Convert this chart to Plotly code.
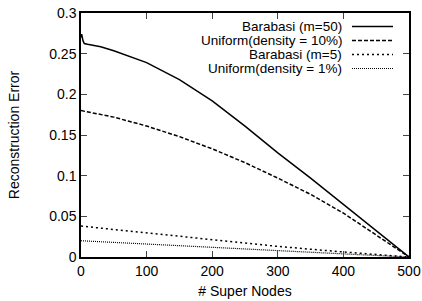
import plotly.graph_objects as go

# Data
x_ba50 = [0, 1, 3, 5, 10, 30, 50, 100, 150, 200, 250, 300, 350, 400, 450, 500]
y_ba50 = [0.270, 0.274, 0.266, 0.2625, 0.2615, 0.2585, 0.2535, 0.239, 0.218, 0.192, 0.161, 0.128, 0.097, 0.065, 0.033, 0.0]

x_u10 = [0, 50, 100, 150, 200, 250, 300, 350, 400, 450, 500]
y_u10 = [0.180, 0.172, 0.161, 0.148, 0.133, 0.116, 0.097, 0.077, 0.054, 0.027, 0.0]

x_ba5 = [0, 100, 200, 300, 400, 500]
y_ba5 = [0.038, 0.0295, 0.021, 0.013, 0.0062, 0.0]

x_u1 = [0, 100, 200, 300, 400, 500]
y_u1 = [0.020, 0.0158, 0.0118, 0.0078, 0.0038, 0.0]

names = ["Barabasi (m=50)", "Uniform(density = 10%)", "Barabasi (m=5)", "Uniform(density = 1%)"]
dashes = ["solid", "4px,2px", "2px,3px", "1px,1px"]
widths = [1.5, 1.5, 1.5, 1.2]

FONT = "Liberation Sans, Arial, Helvetica"
L, R, T, B = 81, 409, 13, 257

fig = go.Figure()
series = [(x_ba50, y_ba50), (x_u10, y_u10), (x_ba5, y_ba5), (x_u1, y_u1)]
for (xs, ys), n, d, w in zip(series, names, dashes, widths):
    fig.add_trace(go.Scatter(x=xs, y=ys, mode="lines", name=n,
                             line=dict(color="black", width=w, dash=d),
                             showlegend=False, hoverinfo="skip"))

# gnuplot-style key: text right-aligned, sample line to its right
leg_y = [26.5, 40.5, 54.5, 68.5]
for i, (n, d, w) in enumerate(zip(names, dashes, widths)):
    yp = (B - leg_y[i]) / (B - T)
    fig.add_annotation(xref="paper", yref="paper", x=(344 - L) / (R - L), y=yp,
                       text=n, showarrow=False, xanchor="right", yanchor="middle",
                       font=dict(family=FONT, size=13.5, color="black"))
    fig.add_shape(type="line", xref="paper", yref="paper",
                  x0=(352 - L) / (R - L), x1=(393 - L) / (R - L), y0=yp, y1=yp,
                  line=dict(color="black", width=w, dash=d))

axis_common = dict(showline=True, linecolor="black", linewidth=1.5, mirror="ticks",
                   ticks="inside", ticklen=6, tickcolor="#444", tickwidth=1,
                   showgrid=False, zeroline=False, automargin=False,
                   tickfont=dict(family=FONT, size=14, color="black"))

fig.update_xaxes(range=[0, 500], dtick=100, tick0=0,
                 title=dict(text="# Super Nodes", standoff=9,
                            font=dict(family=FONT, size=14, color="black")),
                 **axis_common)
fig.update_yaxes(range=[0, 0.3], dtick=0.05, tick0=0,
                 title=dict(text="Reconstruction Error", standoff=26,
                            font=dict(family=FONT, size=14, color="black")),
                 **axis_common)

fig.update_layout(width=422, height=301, margin=dict(l=L, r=422 - R, t=T, b=301 - B),
                  plot_bgcolor="white", paper_bgcolor="white", showlegend=False,
                  hovermode=False)

fig.write_html("out.html", config={"displayModeBar": False},
               post_script="document.body.style.margin='0';document.body.style.padding='0';")
